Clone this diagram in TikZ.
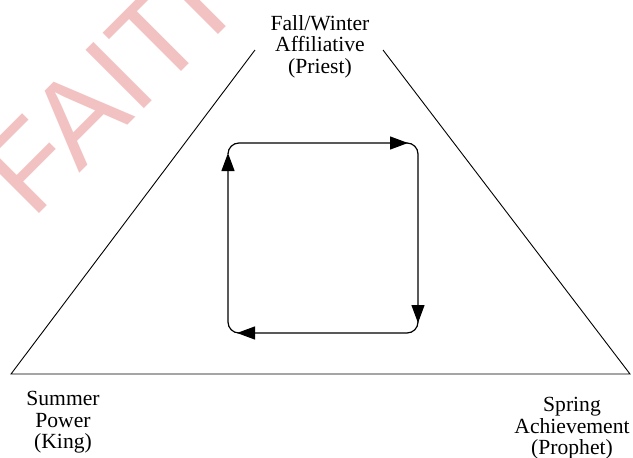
\documentclass[tikz,border=0pt]{standalone}
\usepackage{fontspec}
\setmainfont{Liberation Serif}
\newfontfamily\wmfont{Liberation Sans}
\usetikzlibrary{arrows.meta}
\definecolor{wmpink}{RGB}{242,194,194}
\begin{document}
\begin{tikzpicture}[x=1pt,y=-1pt,
  lbl/.style={align=center,inner sep=0pt,anchor=north,font=\fontsize{21.6pt}{21.7pt}\selectfont},
  wm/.style={inner sep=0pt,anchor=base west,rotate=45,text=wmpink,font=\wmfont\fontsize{120pt}{120pt}\selectfont},
  side/.style={line width=0.9pt},
  cyc/.style={line width=1.2pt,rounded corners=11pt,-{Triangle[length=18pt,width=13pt]}}]
\useasboundingbox (0,0) rectangle (633,458);
\node[wm] (mark) at (32.4,220.6) {FAITH};
% triangle
\coordinate (TL) at (255,50);
\coordinate (TR) at (383,50);
\coordinate (BL) at (11,374);
\coordinate (BR) at (630,374);
\draw[side] (TL) -- (BL) -- (BR) -- (TR);
% labels
\node[lbl] (priest) at (320,15) {Fall/Winter\\Affiliative\\(Priest)};
\node[lbl] (king) at (63,391) {Summer\\Power\\(King)};
\node[lbl] (prophet) at (572,397) {Spring\\Achievement\\(Prophet)};
% cycle
\coordinate (c1) at (228,143);
\coordinate (c2) at (418,143);
\coordinate (c3) at (418,333);
\coordinate (c4) at (228,333);
\coordinate (a1) at (228,154);
\coordinate (e1) at (408,143);
\coordinate (a2) at (406,143);
\coordinate (e2) at (418,323);
\coordinate (a3) at (418,321);
\coordinate (e3) at (237,333);
\coordinate (a4) at (240,333);
\coordinate (e4) at (228,153);
\draw[cyc] (a1) -- (c1) -- (e1);
\draw[cyc] (a2) -- (c2) -- (e2);
\draw[cyc] (a3) -- (c3) -- (e3);
\draw[cyc] (a4) -- (c4) -- (e4);
\end{tikzpicture}
\end{document}
